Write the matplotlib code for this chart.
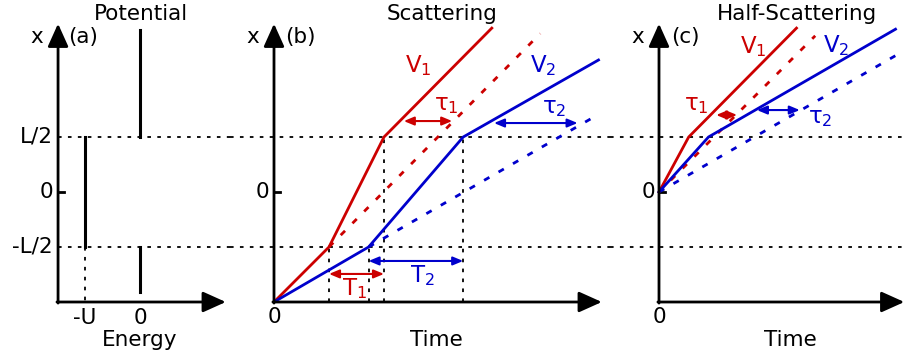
import matplotlib.pyplot as plt

plt.rcParams['font.family'] = ['DejaVu Sans']
plt.rcParams['mathtext.default'] = 'regular'

red = '#cc0000'
blue = '#0000cc'

# levels (L = 1, U = 0.5)
halfL = 0.5
U = 0.5
xBottom = -1.0

# (a) potential: pieces of V(x) = value on vertical segments
potE = [0.0, -U, 0.0]
potLo = [halfL, -halfL, -0.91]
potHi = [1.47, halfL, -halfL]

# (b) scattering trajectories (time, x)
b_red_t = [0, 0.5, 1.0, 1.98]
b_red_x = [-1, -0.5, 0.5, 1.49]
b_redfree_t = [0.5, 2.42]
b_redfree_x = [-0.5, 1.44]
b_blue_t = [0, 0.86, 1.72, 2.95]
b_blue_x = [-1, -0.5, 0.5, 1.2]
b_bluefree_t = [0.86, 2.94]
b_bluefree_x = [-0.5, 0.7]

# (c) half-scattering trajectories
c_red_t = [0, 0.27, 1.25]
c_red_x = [0, 0.5, 1.49]
c_redfree_t = [0, 1.42]
c_redfree_x = [0, 1.42]
c_blue_t = [0, 0.45, 2.15]
c_blue_x = [0, 0.5, 1.48]
c_bluefree_t = [0, 2.22]
c_bluefree_x = [0, 1.28]

fig = plt.figure(figsize=(9.05, 3.6), dpi=100)
W, H = 905.0, 360.0
scale = 110.0  # px per unit
ylim = ((192 - H) / scale, 192 / scale)


def makeAx(px0, px1, origin):
    ax = fig.add_axes([px0 / W, 0, (px1 - px0) / W, 1])
    ax.set_xlim((px0 - origin) / scale, (px1 - origin) / scale)
    ax.set_ylim(*ylim)
    ax.axis('off')
    return ax


def axesArrows(ax, x0, y0, xtip, ytip):
    kw = dict(arrowstyle='-|>,head_length=1.0,head_width=0.45', color='black',
              lw=2, mutation_scale=14, shrinkA=0, shrinkB=0)
    ax.annotate('', xy=(xtip, y0), xytext=(x0 - 0.01, y0), arrowprops=kw,
                annotation_clip=False)
    ax.annotate('', xy=(x0, ytip), xytext=(x0, y0 - 0.01), arrowprops=kw,
                annotation_clip=False)


def dotted(ax, xs, ys):
    ax.plot(xs, ys, color='black', lw=1.3, ls=(0, (2, 3.5)), clip_on=False)


def dbl(ax, x0, x1, y, c):
    ax.annotate('', xy=(x1, y), xytext=(x0, y),
                arrowprops=dict(arrowstyle='<|-|>,head_length=0.6,head_width=0.25',
                                color=c, lw=1.5, mutation_scale=10,
                                shrinkA=0, shrinkB=0))


def corner(ax, xr, lab):
    # "x" axis name and panel letter beside the vertical arrow
    ax.text(xr[0], 1.41, 'x', ha='right', va='center', fontsize=fs)
    ax.text(xr[1], 1.41, lab, ha='left', va='center', fontsize=fs)


fs = 15.5
fsl = 16.5
dash = (0, (2.2, 3.8))

########################
# (a) Potential
########################
axA = makeAx(0, 230, 140)
eAxis = -0.745
xl = axA.get_xlim()
for lvl in [halfL, -halfL]:
    dotted(axA, [eAxis, xl[1]], [lvl, lvl])
axesArrows(axA, eAxis, xBottom, 0.78, 1.53)
axA.plot([eAxis, eAxis + 0.05], [0, 0], color='black', lw=2)
for e, lo, hi in zip(potE, potLo, potHi):
    axA.plot([e, e], [lo, hi], color='black', lw=2.2)
dotted(axA, [-U, -U], [-halfL, xBottom])
for lab, yv in zip(['L/2', '0', '-L/2'], [halfL, 0, -halfL]):
    axA.text(-0.79, yv, lab, ha='right', va='center', fontsize=fs)
axA.text(-U, -1.145, '-U', ha='center', va='center', fontsize=fs)
axA.text(0, -1.145, '0', ha='center', va='center', fontsize=fs)
axA.text(0.0, -1.4, 'Energy', ha='center', va='baseline', fontsize=fs)
axA.text(0.01, 1.564, 'Potential', ha='center', va='baseline', fontsize=fs)
corner(axA, (-0.882, -0.655), '(a)')

########################
# (b) Scattering
########################
axB = makeAx(230, 610, 274)
xl = axB.get_xlim()
for lvl in [halfL, -halfL]:
    dotted(axB, [xl[0], xl[1]], [lvl, lvl])
for tv, top in [(b_red_t[1], -halfL), (b_blue_t[1], -halfL),
                (b_red_t[2], halfL), (b_blue_t[2], halfL)]:
    dotted(axB, [tv, tv], [xBottom, top])
axesArrows(axB, 0, xBottom, 2.98, 1.53)
axB.plot([0, 0.05], [0, 0], color='black', lw=2)
axB.plot(b_redfree_t, b_redfree_x, color=red, lw=2, ls=dash)
axB.plot(b_bluefree_t, b_bluefree_x, color=blue, lw=2, ls=dash)
axB.plot(b_red_t, b_red_x, color=red, lw=2)
axB.plot(b_blue_t, b_blue_x, color=blue, lw=2)
dbl(axB, 1.18, 1.62, 0.645, red)
dbl(axB, 2.0, 2.76, 0.627, blue)
dbl(axB, b_red_t[1], b_red_t[2], -0.745, red)
dbl(axB, b_blue_t[1], b_blue_t[2], -0.627, blue)
axB.text(-0.045, 0, '0', ha='right', va='center', fontsize=fs)
axB.text(0, -1.135, '0', ha='center', va='center', fontsize=fs)
axB.text(1.48, -1.4, 'Time', ha='center', va='baseline', fontsize=fs)
axB.text(1.53, 1.564, 'Scattering', ha='center', va='baseline', fontsize=fs)
corner(axB, (-0.136, 0.1), '(b)')
axB.text(1.19, 1.09, 'V$_1$', color=red, ha='left', va='baseline', fontsize=fsl)
axB.text(2.33, 1.09, 'V$_2$', color=blue, ha='left', va='baseline', fontsize=fsl)
axB.text(1.45, 0.745, 'τ$_1$', color=red, ha='left', va='baseline', fontsize=fsl)
axB.text(2.44, 0.718, 'τ$_2$', color=blue, ha='left', va='baseline', fontsize=fsl)
axB.text(0.62, -0.936, 'T$_1$', color=red, ha='left', va='baseline', fontsize=fsl)
axB.text(1.236, -0.818, 'T$_2$', color=blue, ha='left', va='baseline', fontsize=fsl)

########################
# (c) Half-Scattering
########################
axC = makeAx(610, 905, 659)
xl = axC.get_xlim()
for lvl in [halfL, -halfL]:
    dotted(axC, [xl[0], xl[1]], [lvl, lvl])
axesArrows(axC, 0, xBottom, 2.23, 1.53)
axC.plot([0, 0.05], [0, 0], color='black', lw=2)
axC.plot(c_redfree_t, c_redfree_x, color=red, lw=2, ls=dash)
axC.plot(c_bluefree_t, c_bluefree_x, color=blue, lw=2, ls=dash)
axC.plot(c_red_t, c_red_x, color=red, lw=2)
axC.plot(c_blue_t, c_blue_x, color=blue, lw=2)
dbl(axC, 0.52, 0.71, 0.70, red)
dbl(axC, 0.89, 1.28, 0.745, blue)
axC.text(-0.036, 0, '0', ha='right', va='center', fontsize=fs)
axC.text(0, -1.135, '0', ha='center', va='center', fontsize=fs)
axC.text(1.19, -1.4, 'Time', ha='center', va='baseline', fontsize=fs)
axC.text(1.255, 1.564, 'Half-Scattering', ha='center', va='baseline', fontsize=fs)
corner(axC, (-0.136, 0.109), '(c)')
axC.text(0.736, 1.264, 'V$_1$', color=red, ha='left', va='baseline', fontsize=fsl)
axC.text(1.49, 1.27, 'V$_2$', color=blue, ha='left', va='baseline', fontsize=fsl)
axC.text(0.227, 0.745, 'τ$_1$', color=red, ha='left', va='baseline', fontsize=fsl)
axC.text(1.355, 0.627, 'τ$_2$', color=blue, ha='left', va='baseline', fontsize=fsl)

fig.savefig('out.png', dpi=100)
